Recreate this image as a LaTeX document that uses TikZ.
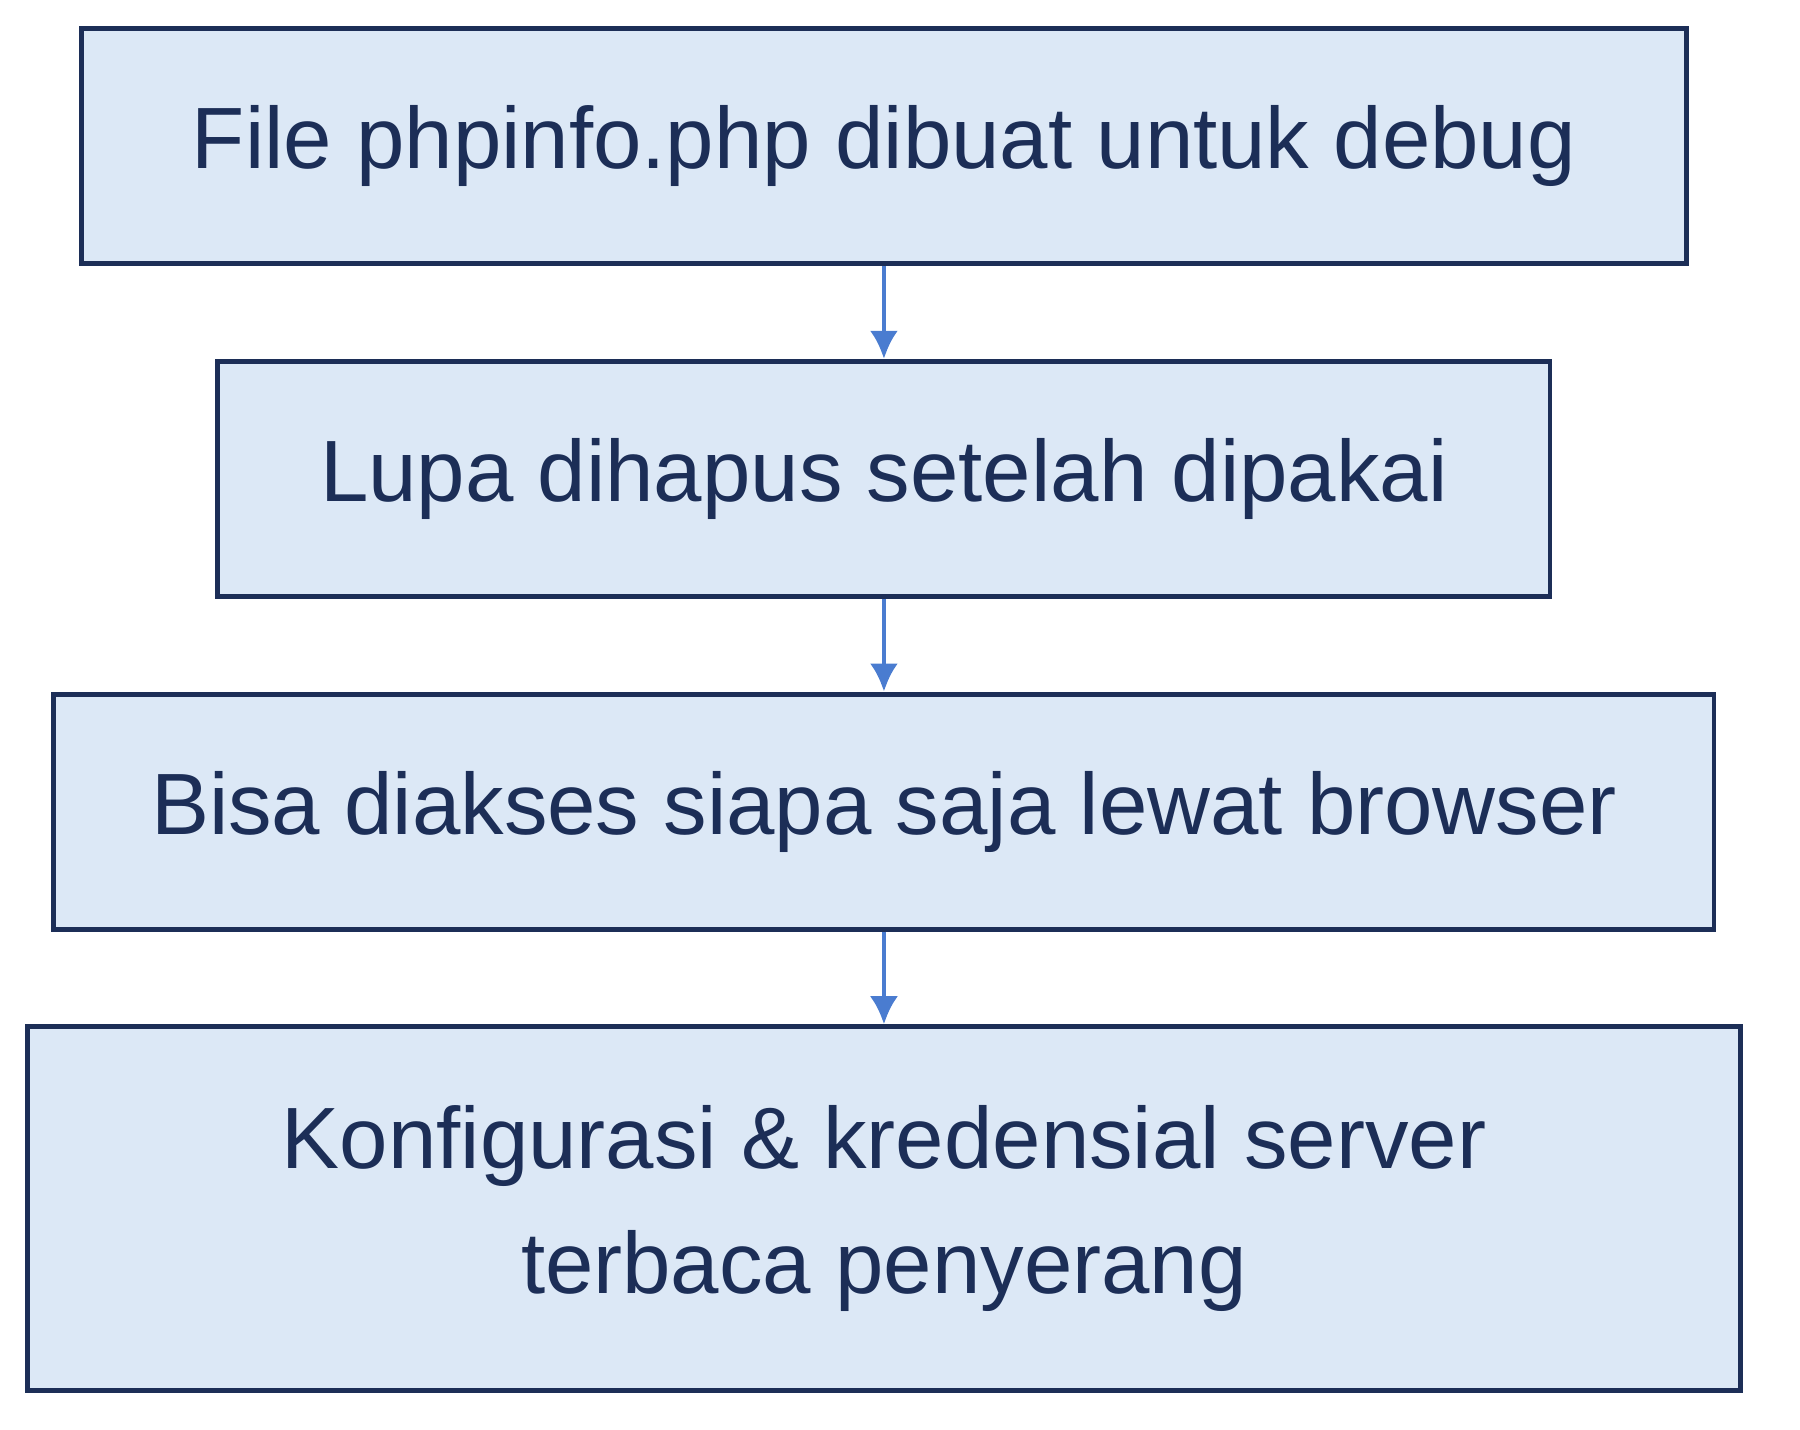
\documentclass[tikz,border=0pt]{standalone}
\usepackage{fontspec}
\setmainfont{Liberation Sans}
\usetikzlibrary{positioning}
\usetikzlibrary{arrows.meta}
\definecolor{boxfill}{HTML}{DCE8F6}
\definecolor{boxline}{HTML}{1C2E57}
\definecolor{arrowblue}{HTML}{4A7CD0}

\begin{document}
\begin{tikzpicture}[
                step/.style = {
                    draw = boxline,
                    fill = boxfill,
                    line width = 1.2pt,
                    minimum width = #1,
                    minimum height = 2.05cm,
                    text = boxline,
                    font = \fontsize{21.6pt}{31pt}\selectfont,
                    align = center,
                    inner sep = 0pt
                },
                link/.style = {
                    draw = arrowblue,
                    line width = 1.2pt,
                    -{Latex[length=7pt,width=7pt]}
                },
                node distance = {8.1mm}
            ]
            \useasboundingbox (0,0) rectangle (15.7,-12.47);
            \node[step=14cm] (debug) at (7.71,-1.275) {File phpinfo.php dibuat untuk debug};
            \node[step=11.62cm, below=of debug] (lupa) {Lupa dihapus setelah dipakai};
            \node[step=14.48cm, below=of lupa] (akses) {Bisa diakses siapa saja lewat browser};
            \node[step=14.94cm, minimum height=3.17cm, below=of akses] (bocor)
                {Konfigurasi \& kredensial server\\terbaca penyerang};
            %
            \draw[link] (debug) -- (lupa);
            \draw[link] (lupa) -- (akses);
            \draw[link] (akses) -- (bocor);
        \end{tikzpicture}
\end{document}
